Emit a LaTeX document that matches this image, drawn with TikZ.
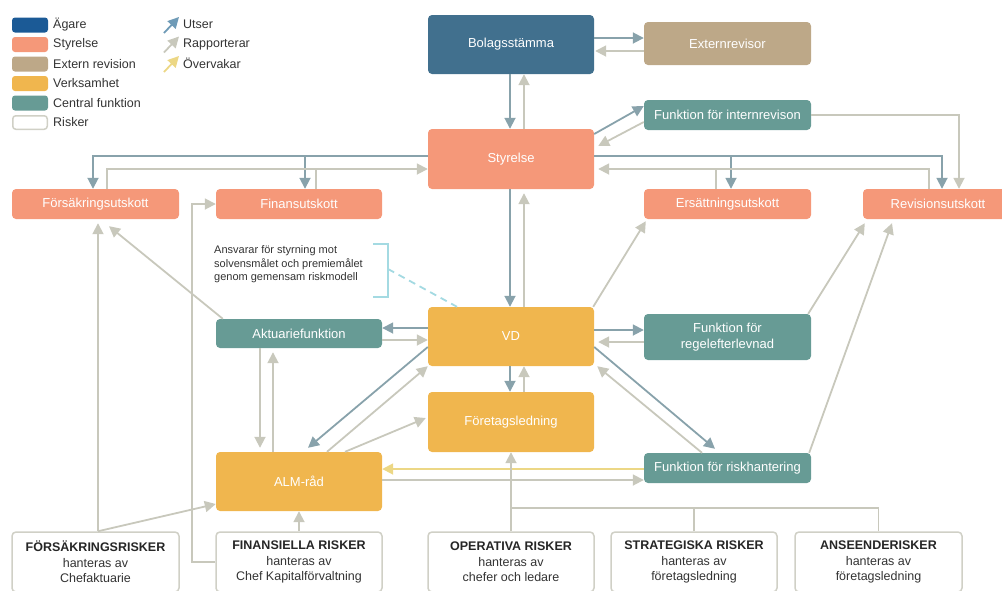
\documentclass[tikz,border=0pt]{standalone}
\usepackage{fontspec}
\setmainfont{Liberation Sans}
\usetikzlibrary{arrows.meta}
\definecolor{cagare}{HTML}{1B5A96}
\definecolor{cbol}{HTML}{41708E}
\definecolor{csty}{HTML}{F59879}
\definecolor{ctan}{HTML}{BDA888}
\definecolor{corange}{HTML}{F0B64E}
\definecolor{cteal}{HTML}{679B95}
\definecolor{crisk}{HTML}{D0D0C6}
\definecolor{cut}{HTML}{88A2AB}
\definecolor{cutlg}{HTML}{6F9BB7}
\definecolor{crap}{HTML}{C8C8BC}
\definecolor{cove}{HTML}{ECD785}
\definecolor{cbrk}{HTML}{A4DAE2}
\definecolor{ctxt}{HTML}{333333}
\begin{document}
\begin{tikzpicture}[x=1pt,y=-1pt,
  box/.style={rounded corners=4pt, inner sep=0pt, text=white, align=center,
    font=\fontsize{13}{15.5}\selectfont},
  riskbox/.style={rounded corners=4pt, inner sep=0pt, draw=crisk, line width=1.5pt,
    fill=white, text=ctxt, align=center, minimum height=60pt,
    font=\fontsize{12.5}{15.5}\selectfont},
  swatch/.style={rounded corners=3pt, minimum width=36pt, minimum height=15pt, inner sep=0pt},
  lgtext/.style={anchor=west, inner sep=0pt, text=ctxt, font=\fontsize{12.5}{15}\selectfont},
  tip/.style={-{Triangle[length=11pt,width=11pt]}},
  ut/.style={draw=cut, line width=1.8pt, tip},
  rap/.style={draw=crap, line width=1.8pt, tip},
  rapline/.style={draw=crap, line width=1.8pt},
  ove/.style={draw=cove, line width=1.8pt, tip},
  brk/.style={draw=cbrk, line width=1.8pt}
]
\useasboundingbox (0,0) rectangle (1002,590);
\clip (0,0) rectangle (1002,590);

% ---------- legend ----------
\node[swatch, fill=cagare] (sw1) at (30,25) {};
\node[swatch, fill=csty] (sw2) at (30,44.5) {};
\node[swatch, fill=ctan] (sw3) at (30,64) {};
\node[swatch, fill=corange] (sw4) at (30,83.5) {};
\node[swatch, fill=cteal] (sw5) at (30,103) {};
\node[swatch, fill=white, draw=crisk, line width=1.5pt, minimum width=34.5pt, minimum height=13.5pt] (sw6) at (30,122.5) {};
\node[lgtext] (lt1) at (53,25) {Ägare};
\node[lgtext] (lt2) at (53,44.5) {Styrelse};
\node[lgtext] (lt3) at (53,64) {Extern revision};
\node[lgtext] (lt4) at (53,83.5) {Verksamhet};
\node[lgtext] (lt5) at (53,103) {Central funktion};
\node[lgtext] (lt6) at (53,122.5) {Risker};
\draw[draw=cutlg, line width=1.8pt, tip] (164,33) -- (179,17);
\draw[rap] (164,52.5) -- (179,36.5);
\draw[ove] (164,72) -- (179,56);
\node[lgtext] (la1) at (183,24.5) {Utser};
\node[lgtext] (la2) at (183,44) {Rapporterar};
\node[lgtext] (la3) at (183,63.5) {Övervakar};

% ---------- nodes ----------
\node[box, fill=cbol, minimum width=166pt, minimum height=59pt] (bol) at (511,44.5) {Bolagsstämma};
\node[box, fill=ctan, minimum width=167pt, minimum height=43pt] (ext) at (727.5,43.5) {Externrevisor};
\node[box, fill=cteal, minimum width=167pt, minimum height=30pt] (intrev) at (727.5,115) {Funktion för internrevison};
\node[box, fill=csty, minimum width=166pt, minimum height=60pt] (sty) at (511,159) {Styrelse};
\node[box, fill=csty, minimum width=167pt, minimum height=30pt] (fors) at (95.5,204) {Försäkringsutskott};
\node[box, fill=csty, minimum width=166pt, minimum height=30pt] (fin) at (299,204) {Finansutskott};
\node[box, fill=csty, minimum width=167pt, minimum height=30pt] (ers) at (727.5,204) {Ersättningsutskott};
\node[box, fill=csty, minimum width=150pt, minimum height=30pt] (rev) at (938,204) {Revisionsutskott};
\node[box, fill=cteal, minimum width=166pt, minimum height=29pt] (akt) at (299,333.5) {Aktuariefunktion};
\node[box, fill=corange, minimum width=166pt, minimum height=59pt] (vd) at (511,336.5) {VD};
\node[box, fill=cteal, minimum width=167pt, minimum height=46pt] (regel) at (727.5,337) {Funktion för\\regelefterlevnad};
\node[box, fill=corange, minimum width=166pt, minimum height=60pt] (foretag) at (511,422) {Företagsledning};
\node[box, fill=corange, minimum width=166pt, minimum height=59pt] (alm) at (299,481.5) {ALM-råd};
\node[box, fill=cteal, minimum width=167pt, minimum height=30pt] (riskh) at (727.5,468) {Funktion för riskhantering};

\node[riskbox, minimum width=167pt] (forsr) at (95.5,562) {\textbf{\color{black!85}FÖRSÄKRINGSRISKER}\\hanteras av\\Chefaktuarie};
\node[riskbox, minimum width=166pt] (finr) at (299,562) {\textbf{\color{black!85}FINANSIELLA RISKER}\\hanteras av\\Chef Kapitalförvaltning};
\node[riskbox, minimum width=166pt] (opr) at (511,562) {\textbf{\color{black!85}OPERATIVA RISKER}\\hanteras av\\chefer och ledare};
\node[riskbox, minimum width=166pt] (strr) at (694,562) {\textbf{\color{black!85}STRATEGISKA RISKER}\\hanteras av\\företagsledning};
\node[riskbox, minimum width=167pt] (ansr) at (878.5,562) {\textbf{\color{black!85}ANSEENDERISKER}\\hanteras av\\företagsledning};

\node[anchor=west, inner sep=0pt, align=left, text=ctxt, font=\fontsize{11}{13.5}\selectfont] (note) at (214,264.5)
  {Ansvarar för styrning mot\\solvensmålet och premiemålet\\genom gemensam riskmodell};

% ---------- bracket ----------
\coordinate (bk1) at (373,244);
\coordinate (bk2) at (388,244);
\coordinate (bk3) at (388,297);
\coordinate (bk4) at (373,297);
\coordinate (bkm) at (388,269);
\draw[brk] (bk1) -- (bk2) -- (bk3) -- (bk4);
\draw[brk, dash pattern=on 7pt off 5pt] (bkm) -- ([xshift=-54pt]vd.north);

% ---------- connectors ----------
% Bolagsstämma / Externrevisor
\draw[ut] (bol.east |- 0,38) -- (ext.west |- 0,38);
\draw[rap] (ext.west |- 0,51) -- ([xshift=1pt]bol.east |- 0,51);
% Bolagsstämma / Styrelse
\draw[ut] (510,0 |- bol.south) -- (510,0 |- sty.north);
\draw[rap] (524,0 |- sty.north) -- (524,0 |- bol.south);
% Styrelse / internrevision
\draw[ut] (sty.east |- 0,134) -- (intrev.west |- 0,106);
\draw[rap] (intrev.west |- 0,122) -- ([xshift=4pt]sty.east |- 0,146);
% Styrelse -> right committees
\coordinate (jr1) at (731,156);
\coordinate (jr2) at (716,169);
\draw[ut] (sty.east |- 0,156) -| (942,0 |- rev.north);
\draw[ut] (jr1) -- (731,0 |- ers.north);
\draw[rap] (929,0 |- rev.north) |- ([xshift=4pt]sty.east |- 0,169);
\draw[rapline] (716,0 |- ers.north) -- (jr2);
\draw[rap] (intrev.east) -| (959,0 |- rev.north);
% Styrelse -> left committees
\coordinate (jl1) at (305,156);
\coordinate (jl2) at (316,169);
\draw[ut] (sty.west |- 0,156) -| (93,0 |- fors.north);
\draw[ut] (jl1) -- (305,0 |- fin.north);
\draw[rap] (107,0 |- fors.north) |- (sty.west |- 0,169);
\draw[rapline] (316,0 |- fin.north) -- (jl2);
% Finansiella risker -> Finansutskott
\draw[rap] (finr.west) -| (192,0 |- fin.west) -- (fin.west);
% Försäkringsrisker
\draw[rap, shorten >=4pt] (98,0 |- forsr.north) -- (98,0 |- fors.south);
\draw[rap] (98,0 |- forsr.north) -- ([yshift=-1pt]alm.west |- 0,503);
% Aktuarie -> Försäkringsutskott
\draw[rap] ([xshift=7pt]akt.north west) -- ([xshift=13.5pt,yshift=-7pt]fors.south);
% Styrelse / VD
\draw[ut] (510,0 |- sty.south) -- (510,0 |- vd.north);
\draw[rap] (524,0 |- vd.north) -- ([yshift=-4pt]524,0 |- sty.south);
% VD / Aktuarie
\draw[ut] (vd.west |- 0,328) -- (akt.east |- 0,328);
\draw[rap] (akt.east |- 0,340) -- (vd.west |- 0,340);
% VD / regelefterlevnad
\draw[ut] (vd.east |- 0,330) -- (regel.west |- 0,330);
\draw[rap] (regel.west |- 0,342) -- ([xshift=4pt]vd.east |- 0,342);
% VD / Företagsledning
\draw[ut] (510,0 |- vd.south) -- (510,0 |- foretag.north);
\draw[rap] (524,0 |- foretag.north) -- (524,0 |- vd.south);
% Aktuarie / ALM
\draw[rap] (260,0 |- akt.south) -- ([yshift=4pt]260,0 |- alm.north);
\draw[rap] (273,0 |- alm.north) -- ([yshift=-4pt]273,0 |- akt.south);
% VD / ALM
\draw[ut] (vd.west |- 0,347) -- ([xshift=9pt,yshift=4pt]alm.north);
\draw[rap] ([xshift=28pt]alm.north) -- (vd.south west);
\draw[rap] ([xshift=46pt]alm.north) -- ([xshift=-2pt]foretag.west |- 0,418);
% ALM / riskhantering
\draw[ove] (riskh.west |- 0,469) -- (alm.east |- 0,469);
\draw[rap] (alm.east |- 0,480) -- (riskh.west |- 0,480);
% VD / riskhantering
\draw[ut] (vd.east |- 0,347) -- ([xshift=-12.5pt,yshift=4pt]riskh.north);
\draw[rap] ([xshift=-25.5pt]riskh.north) -- ([xshift=3pt]vd.south east);
% -> Revisionsutskott
\draw[rap] ([xshift=-2pt]riskh.north east) -- ([yshift=-4pt]892,0 |- rev.south);
\draw[rap] ([xshift=-3pt]regel.north east) -- ([xshift=2pt,yshift=-4pt]rev.south west);
% VD -> Ersättningsutskott
\draw[rap] ([xshift=-1pt]vd.north east) -- ([xshift=2pt,yshift=-2pt]ers.south west);
% Risks -> ALM / Företagsledning
\draw[rap] (finr.north) -- (alm.south);
\draw[rap] (opr.north) -- (foretag.south);
\coordinate (jb1) at (511,508);
\coordinate (jb2) at (694,508);
\draw[rapline] (ansr.north) |- (jb1);
\draw[rapline] (strr.north) -- (jb2);
\end{tikzpicture}
\end{document}
